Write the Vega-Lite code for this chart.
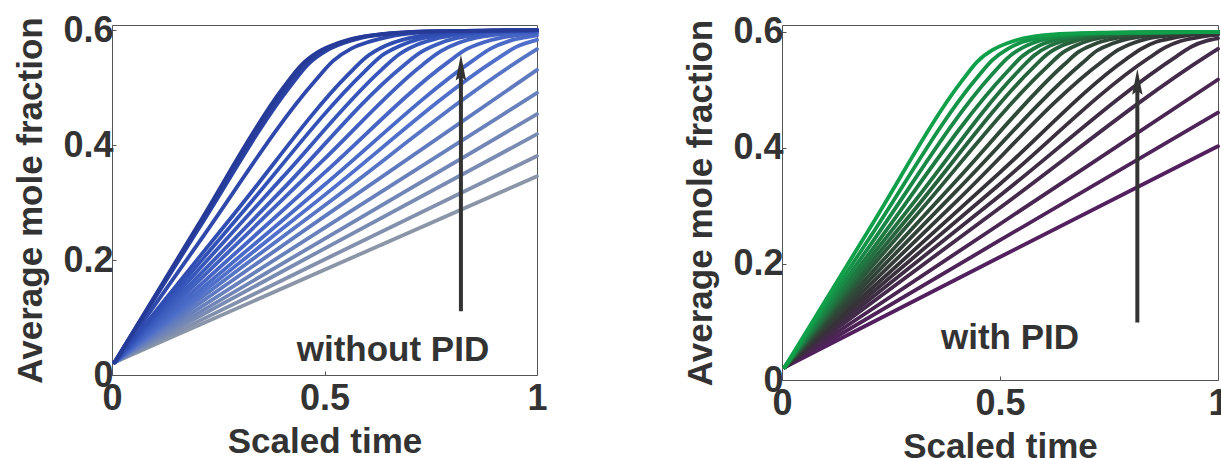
{
  "$schema": "https://vega.github.io/schema/vega-lite/v6.json",
  "padding": {"left": 13, "top": 11, "right": 0, "bottom": 0},
  "bounds": "flush",
  "spacing": 245,
  "resolve": {"scale": {"x": "independent", "y": "independent", "color": "independent"}},
  "config": {
    "view": {"stroke": "#555555", "strokeWidth": 1},
    "axis": {
      "domain": false, "grid": false,
      "labelFont": "Liberation Sans", "labelFontSize": 36, "labelFontWeight": "bold", "labelColor": "#333333",
      "titleFont": "Liberation Sans", "titleFontSize": 35, "titleFontWeight": "bold", "titleColor": "#333333",
      "tickColor": "#555555", "tickSize": -4, "tickWidth": 1,
      "labelFlush": false, "labelOverlap": false
    },
    "axisLeft": {"labelPadding": 3, "titlePadding": 14},
    "axisBottom": {"labelPadding": 10, "titlePadding": 8}
  },
  "datasets": {
    "withoutPid": [
      {"run":19,"t":0.006,"y":0.022},{"run":19,"t":0.5,"y":0.183},{"run":19,"t":1,"y":0.346},
      {"run":18,"t":0.006,"y":0.022},{"run":18,"t":0.5,"y":0.201},{"run":18,"t":1,"y":0.381},
      {"run":17,"t":0.006,"y":0.022},{"run":17,"t":0.5,"y":0.22},{"run":17,"t":1,"y":0.419},
      {"run":16,"t":0.006,"y":0.022},{"run":16,"t":0.5,"y":0.237},{"run":16,"t":1,"y":0.454},
      {"run":15,"t":0.006,"y":0.022},{"run":15,"t":0.5,"y":0.256},{"run":15,"t":1,"y":0.491},
      {"run":14,"t":0.006,"y":0.022},{"run":14,"t":0.5,"y":0.276},{"run":14,"t":1,"y":0.531},
      {"run":13,"t":0.006,"y":0.022},{"run":13,"t":0.5,"y":0.295},{"run":13,"t":0.97,"y":0.553},{"run":13,"t":1,"y":0.567},
      {"run":12,"t":0.006,"y":0.022},{"run":12,"t":0.5,"y":0.313},{"run":12,"t":0.906,"y":0.55},{"run":12,"t":0.949,"y":0.57},{"run":12,"t":1,"y":0.583},
      {"run":11,"t":0.006,"y":0.022},{"run":11,"t":0.5,"y":0.331},{"run":11,"t":0.849,"y":0.547},{"run":11,"t":0.891,"y":0.568},{"run":11,"t":0.934,"y":0.581},{"run":11,"t":0.976,"y":0.588},{"run":11,"t":1,"y":0.591},
      {"run":10,"t":0.006,"y":0.022},{"run":10,"t":0.5,"y":0.352},{"run":10,"t":0.79,"y":0.544},{"run":10,"t":0.832,"y":0.566},{"run":10,"t":0.875,"y":0.579},{"run":10,"t":0.917,"y":0.587},{"run":10,"t":0.96,"y":0.592},{"run":10,"t":1,"y":0.595},
      {"run":9,"t":0.006,"y":0.022},{"run":9,"t":0.5,"y":0.376},{"run":9,"t":0.731,"y":0.54},{"run":9,"t":0.773,"y":0.563},{"run":9,"t":0.816,"y":0.578},{"run":9,"t":0.858,"y":0.587},{"run":9,"t":0.901,"y":0.592},{"run":9,"t":1,"y":0.597},
      {"run":8,"t":0.006,"y":0.022},{"run":8,"t":0.4,"y":0.322},{"run":8,"t":0.682,"y":0.536},{"run":8,"t":0.725,"y":0.561},{"run":8,"t":0.767,"y":0.576},{"run":8,"t":0.81,"y":0.586},{"run":8,"t":0.852,"y":0.591},{"run":8,"t":0.937,"y":0.597},{"run":8,"t":1,"y":0.598},
      {"run":7,"t":0.006,"y":0.022},{"run":7,"t":0.4,"y":0.343},{"run":7,"t":0.634,"y":0.531},{"run":7,"t":0.676,"y":0.558},{"run":7,"t":0.719,"y":0.575},{"run":7,"t":0.761,"y":0.585},{"run":7,"t":0.804,"y":0.591},{"run":7,"t":0.889,"y":0.597},{"run":7,"t":1,"y":0.599},
      {"run":6,"t":0.006,"y":0.022},{"run":6,"t":0.3,"y":0.277},{"run":6,"t":0.593,"y":0.527},{"run":6,"t":0.635,"y":0.556},{"run":6,"t":0.678,"y":0.573},{"run":6,"t":0.72,"y":0.584},{"run":6,"t":0.763,"y":0.59},{"run":6,"t":0.848,"y":0.596},{"run":6,"t":0.933,"y":0.599},{"run":6,"t":1,"y":0.6},
      {"run":5,"t":0.006,"y":0.022},{"run":5,"t":0.3,"y":0.292},{"run":5,"t":0.556,"y":0.523},{"run":5,"t":0.598,"y":0.553},{"run":5,"t":0.641,"y":0.572},{"run":5,"t":0.683,"y":0.583},{"run":5,"t":0.726,"y":0.59},{"run":5,"t":0.811,"y":0.596},{"run":5,"t":0.896,"y":0.599},{"run":5,"t":1,"y":0.6},
      {"run":4,"t":0.006,"y":0.022},{"run":4,"t":0.2,"y":0.226},{"run":4,"t":0.478,"y":0.512},{"run":4,"t":0.521,"y":0.547},{"run":4,"t":0.563,"y":0.568},{"run":4,"t":0.606,"y":0.58},{"run":4,"t":0.648,"y":0.588},{"run":4,"t":0.733,"y":0.596},{"run":4,"t":0.818,"y":0.598},{"run":4,"t":1,"y":0.6},
      {"run":3,"t":0.006,"y":0.022},{"run":3,"t":0.2,"y":0.25},{"run":3,"t":0.419,"y":0.502},{"run":3,"t":0.462,"y":0.541},{"run":3,"t":0.504,"y":0.564},{"run":3,"t":0.547,"y":0.578},{"run":3,"t":0.589,"y":0.587},{"run":3,"t":0.674,"y":0.595},{"run":3,"t":0.759,"y":0.598},{"run":3,"t":1,"y":0.6},
      {"run":2,"t":0.006,"y":0.022},{"run":2,"t":0.2,"y":0.254},{"run":2,"t":0.411,"y":0.5},{"run":2,"t":0.453,"y":0.54},{"run":2,"t":0.496,"y":0.563},{"run":2,"t":0.538,"y":0.578},{"run":2,"t":0.581,"y":0.587},{"run":2,"t":0.666,"y":0.595},{"run":2,"t":0.751,"y":0.598},{"run":2,"t":1,"y":0.6},
      {"run":1,"t":0.006,"y":0.022},{"run":1,"t":0.2,"y":0.258},{"run":1,"t":0.402,"y":0.499},{"run":1,"t":0.445,"y":0.539},{"run":1,"t":0.487,"y":0.563},{"run":1,"t":0.53,"y":0.577},{"run":1,"t":0.572,"y":0.586},{"run":1,"t":0.657,"y":0.595},{"run":1,"t":0.742,"y":0.598},{"run":1,"t":1,"y":0.6}
    ],
    "withPid": [
      {"run":17,"t":0.006,"y":0.022},{"run":17,"t":0.5,"y":0.212},{"run":17,"t":1,"y":0.403},
      {"run":16,"t":0.006,"y":0.022},{"run":16,"t":0.5,"y":0.241},{"run":16,"t":1,"y":0.461},
      {"run":15,"t":0.006,"y":0.022},{"run":15,"t":0.5,"y":0.269},{"run":15,"t":1,"y":0.518},
      {"run":14,"t":0.006,"y":0.022},{"run":14,"t":0.5,"y":0.297},{"run":14,"t":0.979,"y":0.561},{"run":14,"t":1,"y":0.571},
      {"run":13,"t":0.006,"y":0.022},{"run":13,"t":0.5,"y":0.318},{"run":13,"t":0.905,"y":0.558},{"run":13,"t":0.94,"y":0.575},{"run":13,"t":0.975,"y":0.585},{"run":13,"t":1,"y":0.589},
      {"run":12,"t":0.006,"y":0.022},{"run":12,"t":0.5,"y":0.338},{"run":12,"t":0.843,"y":0.556},{"run":12,"t":0.878,"y":0.573},{"run":12,"t":0.913,"y":0.584},{"run":12,"t":0.948,"y":0.59},{"run":12,"t":0.983,"y":0.594},{"run":12,"t":1,"y":0.595},
      {"run":11,"t":0.006,"y":0.022},{"run":11,"t":0.5,"y":0.358},{"run":11,"t":0.789,"y":0.553},{"run":11,"t":0.824,"y":0.571},{"run":11,"t":0.859,"y":0.583},{"run":11,"t":0.894,"y":0.589},{"run":11,"t":0.929,"y":0.594},{"run":11,"t":1,"y":0.598},
      {"run":10,"t":0.006,"y":0.022},{"run":10,"t":0.4,"y":0.308},{"run":10,"t":0.736,"y":0.55},{"run":10,"t":0.771,"y":0.569},{"run":10,"t":0.806,"y":0.581},{"run":10,"t":0.841,"y":0.589},{"run":10,"t":0.876,"y":0.593},{"run":10,"t":0.946,"y":0.597},{"run":10,"t":1,"y":0.599},
      {"run":9,"t":0.006,"y":0.022},{"run":9,"t":0.4,"y":0.326},{"run":9,"t":0.688,"y":0.546},{"run":9,"t":0.723,"y":0.568},{"run":9,"t":0.758,"y":0.58},{"run":9,"t":0.793,"y":0.588},{"run":9,"t":0.828,"y":0.593},{"run":9,"t":0.898,"y":0.597},{"run":9,"t":0.968,"y":0.599},{"run":9,"t":1,"y":0.6},
      {"run":8,"t":0.006,"y":0.022},{"run":8,"t":0.4,"y":0.344},{"run":8,"t":0.646,"y":0.543},{"run":8,"t":0.681,"y":0.566},{"run":8,"t":0.716,"y":0.579},{"run":8,"t":0.751,"y":0.587},{"run":8,"t":0.786,"y":0.592},{"run":8,"t":0.856,"y":0.597},{"run":8,"t":0.926,"y":0.599},{"run":8,"t":1,"y":0.6},
      {"run":7,"t":0.006,"y":0.022},{"run":7,"t":0.3,"y":0.277},{"run":7,"t":0.608,"y":0.54},{"run":7,"t":0.643,"y":0.564},{"run":7,"t":0.678,"y":0.578},{"run":7,"t":0.713,"y":0.587},{"run":7,"t":0.748,"y":0.592},{"run":7,"t":0.818,"y":0.597},{"run":7,"t":0.888,"y":0.599},{"run":7,"t":1,"y":0.6},
      {"run":6,"t":0.006,"y":0.022},{"run":6,"t":0.3,"y":0.29},{"run":6,"t":0.574,"y":0.537},{"run":6,"t":0.609,"y":0.562},{"run":6,"t":0.644,"y":0.577},{"run":6,"t":0.679,"y":0.586},{"run":6,"t":0.714,"y":0.592},{"run":6,"t":0.784,"y":0.597},{"run":6,"t":0.854,"y":0.599},{"run":6,"t":1,"y":0.6},
      {"run":5,"t":0.006,"y":0.022},{"run":5,"t":0.3,"y":0.304},{"run":5,"t":0.544,"y":0.534},{"run":5,"t":0.579,"y":0.56},{"run":5,"t":0.614,"y":0.576},{"run":5,"t":0.649,"y":0.585},{"run":5,"t":0.684,"y":0.591},{"run":5,"t":0.754,"y":0.597},{"run":5,"t":0.824,"y":0.599},{"run":5,"t":1,"y":0.6},
      {"run":4,"t":0.006,"y":0.022},{"run":4,"t":0.2,"y":0.218},{"run":4,"t":0.516,"y":0.531},{"run":4,"t":0.551,"y":0.558},{"run":4,"t":0.586,"y":0.575},{"run":4,"t":0.621,"y":0.585},{"run":4,"t":0.656,"y":0.591},{"run":4,"t":0.726,"y":0.597},{"run":4,"t":0.796,"y":0.599},{"run":4,"t":1,"y":0.6},
      {"run":3,"t":0.006,"y":0.022},{"run":3,"t":0.2,"y":0.23},{"run":3,"t":0.482,"y":0.527},{"run":3,"t":0.517,"y":0.555},{"run":3,"t":0.552,"y":0.573},{"run":3,"t":0.587,"y":0.584},{"run":3,"t":0.622,"y":0.59},{"run":3,"t":0.692,"y":0.596},{"run":3,"t":0.762,"y":0.599},{"run":3,"t":1,"y":0.6},
      {"run":2,"t":0.006,"y":0.022},{"run":2,"t":0.2,"y":0.244},{"run":2,"t":0.448,"y":0.522},{"run":2,"t":0.483,"y":0.552},{"run":2,"t":0.518,"y":0.571},{"run":2,"t":0.553,"y":0.583},{"run":2,"t":0.588,"y":0.589},{"run":2,"t":0.658,"y":0.596},{"run":2,"t":0.728,"y":0.599},{"run":2,"t":1,"y":0.6},
      {"run":1,"t":0.006,"y":0.022},{"run":1,"t":0.2,"y":0.26},{"run":1,"t":0.413,"y":0.516},{"run":1,"t":0.448,"y":0.549},{"run":1,"t":0.483,"y":0.569},{"run":1,"t":0.518,"y":0.581},{"run":1,"t":0.553,"y":0.589},{"run":1,"t":0.623,"y":0.596},{"run":1,"t":0.693,"y":0.598},{"run":1,"t":1,"y":0.6}
    ]
  },
  "hconcat": [
    {
      "width": 425,
      "height": 350,
      "layer": [
        {
          "data": {"name": "withoutPid"},
          "mark": {"type": "line", "interpolate": "monotone", "strokeWidth": 3.8, "strokeCap": "round", "strokeJoin": "round"},
          "encoding": {
            "x": {"field": "t", "type": "quantitative", "scale": {"domain": [0, 1], "nice": false, "zero": false},
                  "axis": {"orient": "bottom", "values": [0, 0.5, 1], "format": "~g", "title": "Scaled time"}},
            "y": {"field": "y", "type": "quantitative", "scale": {"domain": [0, 0.609], "nice": false},
                  "axis": {"orient": "left", "values": [0, 0.2, 0.4, 0.6], "format": "~g", "title": "Average mole fraction"}},
            "color": {"field": "run", "type": "quantitative", "legend": null,
                      "scale": {"domain": [1, 6, 12, 19], "range": ["#263a98", "#3352b8", "#4f6fca", "#8a96a8"], "interpolate": "rgb"}},
            "detail": {"field": "run", "type": "nominal"}
          }
        },
        {
          "data": {"values": [{"t": 0.821, "lo": 0.111, "hi": 0.535, "lx": 0.661, "ly": 0.024, "label": "without PID"}]},
          "layer": [
            {
              "mark": {"type": "rule", "strokeWidth": 4, "color": "#333333"},
              "encoding": {
                "x": {"field": "t", "type": "quantitative", "axis": {"orient": "top", "values": [0, 0.5, 1], "labels": false, "title": null}},
                "y": {"field": "lo", "type": "quantitative", "axis": {"orient": "right", "values": [0, 0.2, 0.4, 0.6], "labels": false, "title": null}},
                "y2": {"field": "hi"}
              }
            },
            {
              "mark": {"type": "point", "shape": "M0,-1L0.4,1L0,0.7L-0.4,1Z", "filled": true, "size": 676, "color": "#333333", "opacity": 1, "strokeWidth": 0},
              "encoding": {
                "x": {"field": "t", "type": "quantitative", "axis": null},
                "y": {"field": "hi", "type": "quantitative", "axis": null}
              }
            },
            {
              "mark": {"type": "text", "font": "Liberation Sans", "fontWeight": "bold", "fontSize": 35, "color": "#333333", "align": "center", "baseline": "alphabetic"},
              "encoding": {
                "x": {"field": "lx", "type": "quantitative", "axis": null},
                "y": {"field": "ly", "type": "quantitative", "axis": null},
                "text": {"field": "label"}
              }
            }
          ]
        }
      ],
      "resolve": {"axis": {"x": "independent", "y": "independent"}}
    },
    {
      "width": 436,
      "height": 355,
      "layer": [
        {
          "data": {"name": "withPid"},
          "mark": {"type": "line", "interpolate": "monotone", "strokeWidth": 3.8, "strokeCap": "round", "strokeJoin": "round"},
          "encoding": {
            "x": {"field": "t", "type": "quantitative", "scale": {"domain": [0, 1], "nice": false, "zero": false},
                  "axis": {"orient": "bottom", "values": [0, 0.5, 1], "format": "~g", "title": "Scaled time"}},
            "y": {"field": "y", "type": "quantitative", "scale": {"domain": [0, 0.612], "nice": false},
                  "axis": {"orient": "left", "values": [0, 0.2, 0.4, 0.6], "format": "~g", "title": "Average mole fraction"}},
            "color": {"field": "run", "type": "quantitative", "legend": null,
                      "scale": {"domain": [1, 8, 11, 17], "range": ["#10a04a", "#2f4a38", "#363338", "#52205e"], "interpolate": "rgb"}},
            "detail": {"field": "run", "type": "nominal"}
          }
        },
        {
          "data": {"values": [{"t": 0.815, "lo": 0.099, "hi": 0.514, "lx": 0.523, "ly": 0.053, "label": "with PID"}]},
          "layer": [
            {
              "mark": {"type": "rule", "strokeWidth": 4, "color": "#333333"},
              "encoding": {
                "x": {"field": "t", "type": "quantitative", "axis": {"orient": "top", "values": [0, 0.5, 1], "labels": false, "title": null}},
                "y": {"field": "lo", "type": "quantitative", "axis": {"orient": "right", "values": [0, 0.2, 0.4, 0.6], "labels": false, "title": null}},
                "y2": {"field": "hi"}
              }
            },
            {
              "mark": {"type": "point", "shape": "M0,-1L0.4,1L0,0.7L-0.4,1Z", "filled": true, "size": 676, "color": "#333333", "opacity": 1, "strokeWidth": 0},
              "encoding": {
                "x": {"field": "t", "type": "quantitative", "axis": null},
                "y": {"field": "hi", "type": "quantitative", "axis": null}
              }
            },
            {
              "mark": {"type": "text", "font": "Liberation Sans", "fontWeight": "bold", "fontSize": 35, "color": "#333333", "align": "center", "baseline": "alphabetic"},
              "encoding": {
                "x": {"field": "lx", "type": "quantitative", "axis": null},
                "y": {"field": "ly", "type": "quantitative", "axis": null},
                "text": {"field": "label"}
              }
            }
          ]
        }
      ],
      "resolve": {"axis": {"x": "independent", "y": "independent"}}
    }
  ]
}
